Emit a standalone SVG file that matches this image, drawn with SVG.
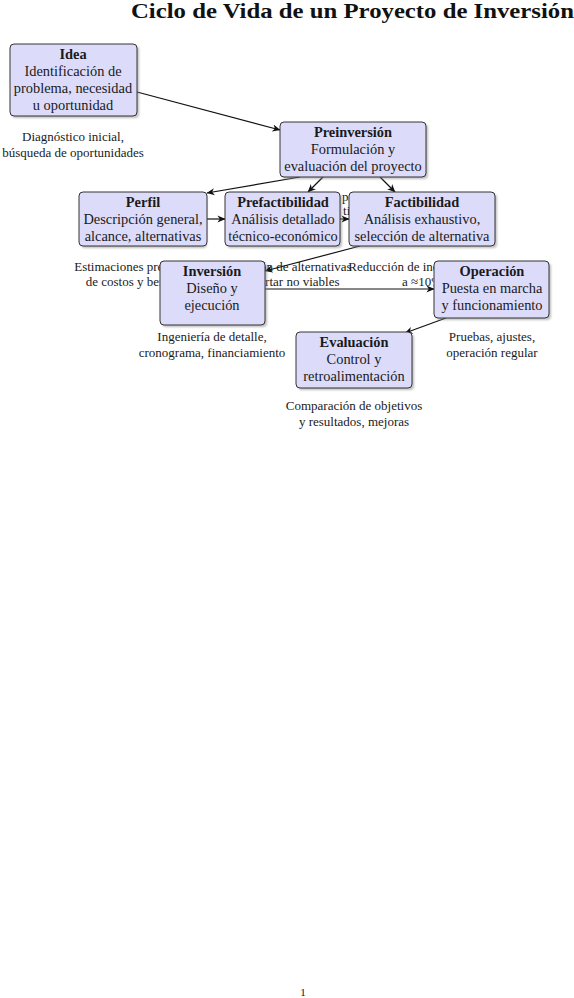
<svg xmlns="http://www.w3.org/2000/svg" width="574" height="998" viewBox="0 0 574 998">
<style>
.t{font-family:"Liberation Serif","Times New Roman",serif;fill:#1a1a1a;text-anchor:middle}
.st{text-anchor:start}
.n{font-size:14.4px}
.b{font-size:14.4px;font-weight:bold}
.s{font-size:13px}
.box{fill:#dcdcfa;stroke:#333;stroke-width:1}
.sh{fill:#888;opacity:0.55;filter:url(#blur)}
.c{stroke:#111;stroke-width:1.2;fill:none;marker-end:url(#ah)}
</style>
<defs>
<filter id="blur" x="-10%" y="-10%" width="120%" height="130%"><feGaussianBlur stdDeviation="1.2"/></filter>
<marker id="ah" viewBox="0 0 10 10" refX="9.5" refY="5" markerWidth="8" markerHeight="8" markerUnits="userSpaceOnUse" orient="auto"><path d="M0,0.5 L10,5 L0,9.5 L3,5 Z" fill="#111"/></marker>
</defs>
<rect width="574" height="998" fill="#fff"/>
<text x="131" y="18" font-family="Liberation Serif,serif" font-weight="bold" font-size="21" fill="#111" textLength="443" lengthAdjust="spacingAndGlyphs">Ciclo de Vida de un Proyecto de Inversión</text>
<g id="notes">
<text class="t s" x="73" y="141">Diagnóstico inicial,</text>
<text class="t s" x="73" y="157">búsqueda de oportunidades</text>
<text class="t s st" x="294" y="201">Estudios progresivos</text>
<text class="t s st" x="321" y="215">con tiempos y costos</text>
<text class="t s" x="143" y="271">Estimaciones preliminares</text>
<text class="t s" x="143" y="286">de costos y beneficios</text>
<text class="t s" x="283" y="271">Evaluación de alternativas</text>
<text class="t s" x="283" y="286">y descartar no viables</text>
<text class="t s" x="422" y="271">Reducción de incertidumbre</text>
<text class="t s" x="422" y="286">a ≈10%</text>
<text class="t s" x="212" y="341">Ingeniería de detalle,</text>
<text class="t s" x="212" y="357">cronograma, financiamiento</text>
<text class="t s" x="492" y="341">Pruebas, ajustes,</text>
<text class="t s" x="492" y="357">operación regular</text>
<text class="t s" x="354" y="410">Comparación de objetivos</text>
<text class="t s" x="354" y="426">y resultados, mejoras</text>
</g>
<g id="connectors">
<line class="c" x1="137" y1="92" x2="280" y2="130"/>
<line class="c" x1="300" y1="177" x2="207" y2="193"/>
<line class="c" x1="323" y1="177" x2="308" y2="192"/>
<line class="c" x1="380" y1="177" x2="395" y2="192"/>
<line class="c" x1="207" y1="219" x2="225" y2="219"/>
<line class="c" x1="340" y1="219" x2="349" y2="219"/>
<line class="c" x1="360" y1="246" x2="265" y2="271"/>
<line class="c" x1="265" y1="289" x2="434" y2="289"/>
<line class="c" x1="446" y1="318" x2="405" y2="333"/>
</g>
<g id="idea">
<rect class="sh" x="12" y="46" width="127" height="72" rx="4"/>
<rect class="box" x="10" y="44" width="127" height="72" rx="4"/>
<text class="t b" x="73" y="59">Idea</text>
<text class="t n" x="73" y="76">Identificación de</text>
<text class="t n" x="73" y="93">problema, necesidad</text>
<text class="t n" x="73" y="110">u oportunidad</text>
</g>
<g id="preinversion">
<rect class="sh" x="282" y="124" width="146" height="55" rx="4"/>
<rect class="box" x="280" y="122" width="146" height="55" rx="4"/>
<text class="t b" x="353" y="137">Preinversión</text>
<text class="t n" x="353" y="154">Formulación y</text>
<text class="t n" x="353" y="171">evaluación del proyecto</text>
</g>
<g id="perfil">
<rect class="sh" x="81" y="194" width="126" height="54" rx="4"/>
<rect class="box" x="79" y="192" width="128" height="54" rx="4"/>
<text class="t b" x="143" y="207">Perfil</text>
<text class="t n" x="143" y="224">Descripción general,</text>
<text class="t n" x="143" y="241">alcance, alternativas</text>
</g>
<g id="prefactibilidad">
<rect class="sh" x="227" y="194" width="115" height="54" rx="4"/>
<rect class="box" x="225" y="192" width="115" height="54" rx="4"/>
<text class="t b" x="283" y="207">Prefactibilidad</text>
<text class="t n" x="283" y="224">Análisis detallado</text>
<text class="t n" x="283" y="241">técnico-económico</text>
</g>
<g id="factibilidad">
<rect class="sh" x="351" y="194" width="146" height="54" rx="4"/>
<rect class="box" x="349" y="192" width="146" height="54" rx="4"/>
<text class="t b" x="422" y="207">Factibilidad</text>
<text class="t n" x="422" y="224">Análisis exhaustivo,</text>
<text class="t n" x="422" y="241">selección de alternativa</text>
</g>
<g id="inversion">
<rect class="sh" x="162" y="263" width="105" height="64" rx="4"/>
<rect class="box" x="160" y="261" width="105" height="64" rx="4"/>
<text class="t b" x="212" y="276">Inversión</text>
<text class="t n" x="212" y="293">Diseño y</text>
<text class="t n" x="212" y="310">ejecución</text>
</g>
<g id="operacion">
<rect class="sh" x="436" y="263" width="115" height="57" rx="4"/>
<rect class="box" x="434" y="261" width="115" height="57" rx="4"/>
<text class="t b" x="492" y="276">Operación</text>
<text class="t n" x="492" y="293">Puesta en marcha</text>
<text class="t n" x="492" y="310">y funcionamiento</text>
</g>
<g id="evaluacion">
<rect class="sh" x="298" y="334" width="116" height="56" rx="4"/>
<rect class="box" x="296" y="332" width="116" height="56" rx="4"/>
<text class="t b" x="354" y="347">Evaluación</text>
<text class="t n" x="354" y="364">Control y</text>
<text class="t n" x="354" y="381">retroalimentación</text>
</g>
<text x="303" y="996" font-family="Liberation Serif,serif" font-size="11" fill="#111" text-anchor="middle">1</text>
</svg>
